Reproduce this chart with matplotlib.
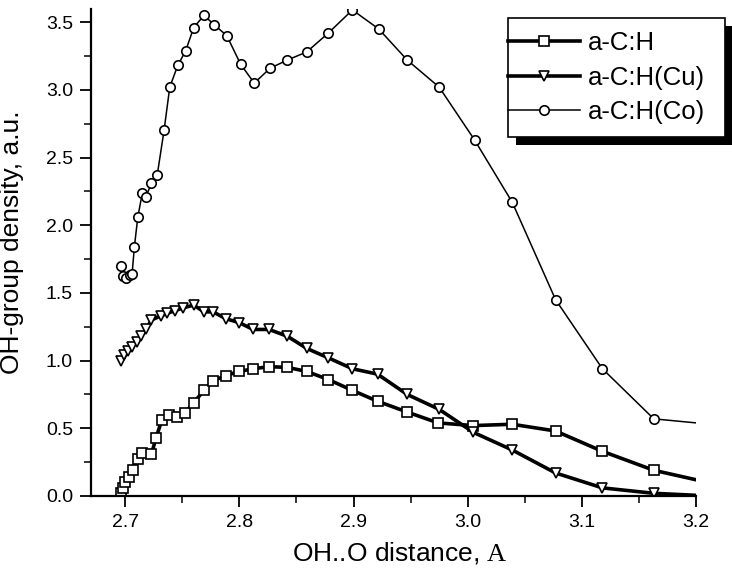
import numpy as np
import matplotlib
matplotlib.use('Agg')
import matplotlib.pyplot as plt
from matplotlib.legend_handler import HandlerLine2D
from matplotlib.patches import Rectangle
from matplotlib.ticker import MultipleLocator

plt.rcParams['font.family'] = ['Liberation Sans', 'DejaVu Sans']
plt.rcParams['mathtext.fontset'] = 'custom'
plt.rcParams['mathtext.rm'] = 'Liberation Serif'

# ---- data ----
x_ach = [2.696, 2.698, 2.700, 2.703, 2.707, 2.711, 2.715, 2.723, 2.727, 2.732, 2.738,
         2.745, 2.752, 2.760, 2.769, 2.777, 2.788, 2.800, 2.812, 2.826, 2.842, 2.859,
         2.878, 2.899, 2.921, 2.947, 2.974, 3.005, 3.039, 3.077, 3.118, 3.163, 3.200]
y_ach = [0.02, 0.06, 0.10, 0.14, 0.19, 0.27, 0.32, 0.31, 0.43, 0.56, 0.60,
         0.58, 0.61, 0.69, 0.78, 0.85, 0.89, 0.92, 0.94, 0.955, 0.95, 0.92,
         0.86, 0.78, 0.70, 0.62, 0.54, 0.52, 0.53, 0.48, 0.33, 0.19, 0.12]

x_cu = [2.696, 2.699, 2.702, 2.706, 2.710, 2.714, 2.718, 2.723, 2.731, 2.737, 2.744,
        2.751, 2.760, 2.769, 2.777, 2.788, 2.800, 2.812, 2.826, 2.842, 2.859, 2.878,
        2.899, 2.921, 2.947, 2.975, 3.005, 3.039, 3.077, 3.118, 3.163, 3.200]
y_cu = [1.00, 1.04, 1.07, 1.10, 1.14, 1.18, 1.23, 1.30, 1.33, 1.35, 1.37,
        1.39, 1.41, 1.36, 1.36, 1.31, 1.28, 1.23, 1.23, 1.18, 1.09, 1.02,
        0.94, 0.90, 0.75, 0.64, 0.47, 0.34, 0.17, 0.06, 0.02, 0.005]

x_co = [2.696, 2.698, 2.701, 2.704, 2.706, 2.708, 2.711, 2.715, 2.718, 2.723, 2.728,
        2.734, 2.739, 2.746, 2.753, 2.760, 2.769, 2.778, 2.789, 2.801, 2.813, 2.827,
        2.842, 2.859, 2.878, 2.899, 2.922, 2.947, 2.975, 3.006, 3.039, 3.077, 3.118,
        3.163, 3.200]
y_co = [1.70, 1.625, 1.61, 1.63, 1.64, 1.84, 2.06, 2.24, 2.21, 2.31, 2.37,
        2.70, 3.02, 3.18, 3.29, 3.46, 3.55, 3.48, 3.40, 3.19, 3.05, 3.16,
        3.22, 3.28, 3.42, 3.59, 3.45, 3.22, 3.02, 2.63, 2.17, 1.45, 0.94,
        0.57, 0.54]

labels = ['a-C:H', 'a-C:H(Cu)', 'a-C:H(Co)']
x_ticks = [2.7, 2.8, 2.9, 3.0, 3.1, 3.2]
y_ticks = [0.0, 0.5, 1.0, 1.5, 2.0, 2.5, 3.0, 3.5]

W, H = 732, 573
fig = plt.figure(figsize=(W / 100, H / 100), dpi=100)
ax = fig.add_axes([91 / W, 77 / H, 605 / W, 487.4 / H])

common = dict(color='black', markerfacecolor='white', markeredgecolor='black',
              markeredgewidth=1.2, markevery=slice(0, -1))
ax.plot(x_ach, y_ach, lw=2.6, marker='s', ms=6.5, label=labels[0], **common)
ax.plot(x_cu, y_cu, lw=2.6, marker='v', ms=7.5, label=labels[1], **common)
ax.plot(x_co, y_co, lw=1.1, marker='o', ms=6.8, label=labels[2], **common)

ax.set_xlim(2.67, 3.2)
ax.set_ylim(0, 3.6)
ax.set_xticks(x_ticks)
ax.set_xticklabels([f'{v:.1f}' for v in x_ticks])
ax.set_yticks(y_ticks)
ax.set_yticklabels([f'{v:.1f}' for v in y_ticks])
ax.xaxis.set_minor_locator(MultipleLocator(0.05))
ax.yaxis.set_minor_locator(MultipleLocator(0.25))
ax.tick_params(which='major', direction='out', length=8, width=1.3, labelsize=14, pad=5)
ax.tick_params(which='minor', direction='out', length=5, width=1.1)
for s in ['top', 'right']:
    ax.spines[s].set_visible(False)
for s in ['left', 'bottom']:
    ax.spines[s].set_linewidth(1.6)

ax.set_xlabel(r'OH..O distance, $\mathrm{A}$', fontsize=19)
ax.xaxis.set_label_coords((400 - 91) / 605, -0.09)
ax.set_ylabel('OH-group density, a.u.', fontsize=19)
ax.yaxis.set_label_coords((24 - 91) / 605, 0.52)


class EdgeHandler(HandlerLine2D):
    def get_xdata(self, legend, xdescent, ydescent, width, height, fontsize):
        pad = legend.borderpad * fontsize
        xd = [-xdescent - pad, -xdescent + width]
        return xd, [0.5 * (xd[0] + xd[1])]

    def create_artists(self, legend, orig_handle, xdescent, ydescent, width,
                       height, fontsize, trans):
        arts = super().create_artists(legend, orig_handle, xdescent, ydescent,
                                      width, height, fontsize, trans)
        for a in arts:
            a.set_markevery([1])
        return arts


handles = ax.get_lines()
leg = ax.legend(handles=handles, labels=labels, loc='upper left',
                bbox_to_anchor=(508 / W, 1 - 140 / H, 217 / W, 122 / H),
                bbox_transform=fig.transFigure, mode='expand',
                fontsize=18.5, frameon=True, fancybox=False, framealpha=1,
                edgecolor='black', borderpad=0.5, labelspacing=0.42,
                handlelength=2.3, handletextpad=0.3, borderaxespad=0,
                handler_map={h: EdgeHandler(numpoints=1) for h in handles})
leg.get_frame().set_linewidth(1.2)
leg.set_zorder(5)

fig.canvas.draw()
bb = leg.get_window_extent()
inv = fig.transFigure.inverted()
(x0, y0), (x1, y1) = inv.transform([[bb.x0 + 8, bb.y0 - 8], [bb.x1 + 8, bb.y1 - 8]])
ax.add_patch(Rectangle((x0, y0), x1 - x0, y1 - y0, transform=fig.transFigure,
                       facecolor='black', edgecolor='none', clip_on=False, zorder=4.9))

fig.savefig('out.png', dpi=100)
